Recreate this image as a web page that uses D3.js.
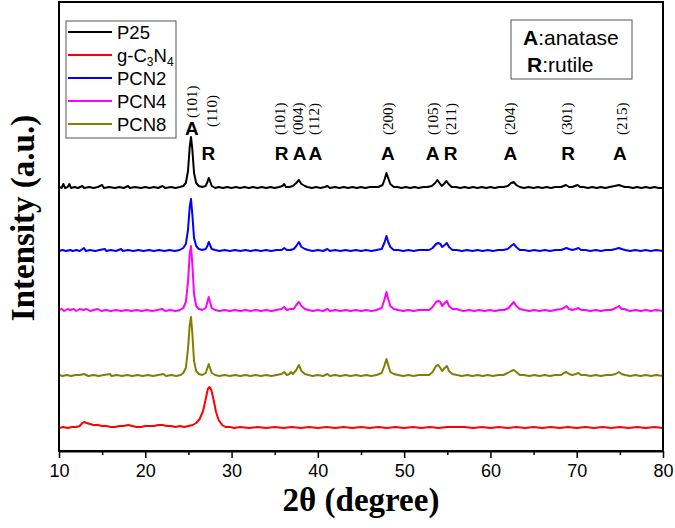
<!DOCTYPE html>
<html><head><meta charset="utf-8">
<script src="https://cdn.jsdelivr.net/npm/d3@7"></script>
<style>body{margin:0;background:#fff}</style>
</head><body><svg id="c" width="675" height="528"></svg>
<script>
const xTicks = [10,20,30,40,50,60,70,80];
const xMinorTicks = [15,25,35,45,55,65,75];
const seriesNames = ["P25","g-C3N4","PCN2","PCN4","PCN8"];
const seriesColors = ["#000000","#ff0000","#0000ff","#ff00ff","#808000"];
const seriesOffsets = [262,22,199,139,74];

const p25 = [[10,2],[10.3,1],[10.5,5],[10.7,1],[11,2],[11.2,5],[11.4,1],[11.8,2],[12.2,1],[12.7,3],[12.9,1],[13.5,2],[14,1],[14.5,2],[15,4],[15.2,1],[15.8,2],[16.5,1],[17,2],[17.5,1],[18,3],[18.2,1],[18.8,2],[19.5,1],[20,2],[20.5,1],[21,2],[21.5,1],[22,3],[22.3,1],[23,2],[23.5,1],[24,2],[24.4,3],[24.7,6],[24.95,18],[25.15,42],[25.3,52],[25.45,40],[25.65,16],[25.9,6],[26.2,3],[26.6,2],[27.0,3],[27.2,7],[27.35,11],[27.5,8],[27.7,3],[28.1,1],[28.5,2],[29,1],[29.5,2],[30,1],[30.5,2],[31,1],[31.5,2],[32,1],[32.5,2],[33,1],[33.5,2],[34,1],[34.5,2],[35,1],[35.5,2],[35.9,3],[36.1,5],[36.3,2],[36.7,2],[37.1,3],[37.5,6],[37.8,9],[38.1,5],[38.5,3],[38.8,2],[39.3,1],[39.8,2],[40.3,1],[40.8,2],[41.1,3],[41.4,1],[42,2],[42.5,1],[43,2],[43.5,1],[44,2],[44.5,1],[45,2],[45.5,1],[46,2],[46.5,2],[47,2],[47.5,4],[47.75,10],[47.95,16],[48.15,11],[48.4,5],[48.8,2],[49.2,2],[49.7,1],[50.2,2],[50.7,1],[51.2,2],[51.7,1],[52.2,2],[52.7,2],[53.2,3],[53.6,6],[53.85,9],[54.1,6],[54.35,3],[54.6,5],[54.9,8],[55.15,5],[55.5,2],[56,2],[56.5,1],[57,2],[57.5,1],[58,2],[58.5,1],[59,2],[59.5,1],[60,2],[60.5,1],[61,2],[61.5,2],[62,3],[62.4,6],[62.7,7],[63,4],[63.4,2],[63.9,1],[64.4,2],[65,1],[65.5,2],[66,1],[66.5,2],[67,1],[67.5,2],[68.2,2],[68.75,4],[69.1,2],[69.5,2],[69.8,3],[70.1,4],[70.4,2],[70.8,2],[71.3,1],[71.8,2],[72.3,1],[72.8,2],[73.3,1],[73.8,2],[74.4,3],[74.9,4],[75.2,3],[75.6,2],[76,2],[76.5,1],[77,2],[77.5,1],[78,2],[78.5,1],[79,2],[79.5,1],[80,1]];

const gC3N4 = [[10,1],[10.5,2],[11,1],[11.5,2],[12,2],[12.4,3],[12.7,6],[12.9,7],[13.2,6],[13.6,5],[14,4],[14.5,4],[15,3],[15.5,3],[16,2],[16.5,2],[17,3],[17.5,3],[18,4],[18.5,3],[19,2],[19.5,2],[20,3],[20.5,3],[21,3],[21.5,4],[22,4],[22.5,3],[23,3],[23.5,2],[24,3],[24.5,2],[25,3],[25.5,4],[25.9,6],[26.3,10],[26.7,18],[27.0,30],[27.25,40],[27.45,42],[27.65,39],[27.9,30],[28.2,17],[28.5,9],[28.9,4],[29.3,2],[29.8,2],[30.3,1],[31,2],[32,1],[33,2],[34,1],[35,2],[36,1],[37,2],[38,1],[39,2],[40,1],[41,2],[42,1],[43,2],[44,1],[45,2],[46,1],[47,2],[48,1],[49,2],[50,1],[51,2],[52,1],[53,2],[54,1],[55,2],[56,2],[57,2],[58,1],[59,2],[60,1],[61,2],[62,1],[63,2],[64,1],[65,2],[66,1],[67,2],[68,1],[69,2],[70,1],[71,2],[72,1],[73,2],[74,1],[75,2],[76,1],[77,2],[78,1],[79,2],[80,1]];

const pcn2 = [[10,1],[10.4,2],[10.8,1],[11.3,2],[11.6,1],[12,2],[12.4,1],[12.9,4],[13.1,1],[13.6,2],[14.2,1],[14.7,2],[15.3,3],[15.5,1],[16,2],[16.6,1],[17.2,3],[17.4,1],[18,2],[18.6,1],[19.2,2],[19.8,1],[20.4,2],[21,1],[21.6,2],[22.2,1],[22.8,2],[23.4,1],[24,2],[24.4,4],[24.7,8],[24.95,22],[25.15,45],[25.3,53],[25.45,38],[25.65,14],[25.9,6],[26.2,3],[26.6,2],[27.0,3],[27.2,6],[27.35,10],[27.5,7],[27.7,3],[28.1,2],[28.6,1],[29.2,2],[29.8,1],[30.4,2],[31,1],[31.6,2],[32.2,1],[32.8,2],[33.4,1],[34,2],[34.6,1],[35.2,2],[35.8,2],[36.1,4],[36.4,2],[36.8,2],[37.2,3],[37.5,6],[37.8,10],[38.1,5],[38.5,3],[38.9,2],[39.4,1],[40,2],[40.6,1],[41.1,3],[41.4,1],[42,2],[42.6,1],[43.2,2],[43.8,1],[44.4,2],[45,1],[45.6,2],[46.2,1],[46.8,2],[47.4,3],[47.7,9],[47.95,16],[48.15,10],[48.4,5],[48.8,2],[49.3,2],[49.9,1],[50.5,2],[51.1,1],[51.7,2],[52.3,2],[52.9,2],[53.3,4],[53.7,8],[53.95,9],[54.2,8],[54.4,5],[54.7,7],[54.95,9],[55.2,5],[55.6,2],[56.1,2],[56.7,1],[57.3,2],[57.9,1],[58.5,2],[59.1,1],[59.7,2],[60.3,1],[60.9,2],[61.5,2],[62,3],[62.4,6],[62.7,8],[63,5],[63.4,2],[63.9,2],[64.5,1],[65.1,2],[65.7,1],[66.3,2],[66.9,1],[67.5,2],[68.2,2],[68.5,3],[68.8,4],[69.1,3],[69.5,2],[69.9,3],[70.2,4],[70.5,2],[71,2],[71.6,1],[72.2,2],[72.8,1],[73.4,2],[74,2],[74.5,3],[74.9,4],[75.2,3],[75.6,2],[76.2,1],[76.8,2],[77.4,1],[78,2],[78.6,1],[79.2,2],[80,1]];

const pcn4 = [[10,2],[10.3,3],[10.6,1],[11,3],[11.3,2],[11.7,3],[12,1],[12.4,3],[12.8,2],[13.2,3],[13.6,1],[14,2],[14.5,3],[14.9,1],[15.4,2],[16,1],[16.6,2],[17.2,1],[17.8,2],[18.4,1],[19,2],[19.6,1],[20.2,2],[20.8,1],[21.4,2],[22,3],[22.3,1],[22.9,2],[23.5,1],[24,2],[24.4,4],[24.7,10],[24.95,30],[25.15,58],[25.3,66],[25.45,48],[25.65,18],[25.9,6],[26.2,3],[26.6,2],[27.0,4],[27.2,10],[27.35,15],[27.5,10],[27.7,4],[28.1,2],[28.6,1],[29.2,2],[29.8,1],[30.4,2],[31,1],[31.6,2],[32.2,1],[32.8,2],[33.4,1],[34,2],[34.6,1],[35.2,2],[35.8,3],[36.1,5],[36.4,2],[36.8,3],[37.2,3],[37.5,7],[37.8,10],[38.1,6],[38.5,3],[38.9,2],[39.4,1],[40,2],[40.6,1],[41.1,3],[41.4,1],[42,2],[42.6,1],[43.2,2],[43.8,1],[44.4,2],[45,1],[45.6,2],[46.2,1],[46.8,2],[47.4,4],[47.7,12],[47.95,20],[48.15,13],[48.4,6],[48.8,3],[49.3,2],[49.9,1],[50.5,2],[51.1,1],[51.7,2],[52.3,2],[52.9,2],[53.3,5],[53.7,10],[53.95,11],[54.2,10],[54.4,6],[54.7,9],[54.95,11],[55.2,6],[55.6,3],[56.1,3],[56.4,2],[56.9,1],[57.5,2],[58.1,1],[58.7,2],[59.3,1],[59.9,2],[60.5,1],[61.1,2],[61.6,2],[62.1,4],[62.4,7],[62.7,10],[63,6],[63.4,3],[63.9,2],[64.5,1],[65.1,2],[65.7,1],[66.3,2],[66.9,1],[67.5,2],[68.2,3],[68.5,4],[68.8,6],[69.1,3],[69.5,2],[69.9,3],[70.2,4],[70.5,2],[71,2],[71.6,1],[72.2,2],[72.8,1],[73.4,2],[74,2],[74.5,4],[74.9,6],[75.2,3],[75.5,3],[75.8,2],[76.2,1],[76.8,2],[77.4,1],[78,2],[78.6,1],[79.2,2],[80,1]];

const pcn8 = [[10,2],[10.4,1],[10.9,2],[11.4,1],[11.9,2],[12.4,2],[12.9,3],[13.4,1],[14,2],[14.6,1],[15.2,2],[15.9,3],[16.1,1],[16.7,2],[17.3,1],[17.9,2],[18.5,1],[19.1,2],[19.7,1],[20.3,2],[20.9,1],[21.5,2],[22.1,3],[22.4,1],[23,2],[23.6,1],[24.1,2],[24.4,4],[24.7,9],[24.95,28],[25.15,52],[25.3,60],[25.45,44],[25.65,16],[25.9,6],[26.2,3],[26.6,2],[27.0,4],[27.2,9],[27.35,13],[27.5,9],[27.7,4],[28.1,2],[28.6,1],[29.2,2],[29.8,1],[30.4,2],[31,1],[31.6,2],[32.2,1],[32.8,2],[33.4,1],[34,2],[34.6,1],[35.2,2],[35.8,3],[36.1,5],[36.4,2],[36.7,3],[36.9,5],[37.1,3],[37.5,7],[37.8,12],[38.1,6],[38.5,3],[38.9,2],[39.4,1],[40,2],[40.6,1],[41.1,3],[41.4,1],[42,2],[42.6,1],[43.2,2],[43.8,1],[44.4,2],[45,1],[45.6,2],[46.2,1],[46.8,2],[47.4,4],[47.7,11],[47.95,18],[48.15,12],[48.4,5],[48.8,3],[49.3,2],[49.9,1],[50.5,2],[51.1,1],[51.7,2],[52.3,2],[52.9,2],[53.3,5],[53.7,11],[53.95,12],[54.2,9],[54.4,6],[54.7,9],[54.95,11],[55.2,6],[55.6,3],[56.1,2],[56.7,1],[57.3,2],[57.9,1],[58.5,2],[59.1,1],[59.7,2],[60.3,1],[60.9,2],[61.5,2],[62,4],[62.4,6],[62.7,7],[63,5],[63.4,2],[63.9,2],[64.5,1],[65.1,2],[65.7,1],[66.3,2],[66.9,1],[67.5,2],[68.2,2],[68.5,4],[68.8,5],[69.1,3],[69.5,2],[69.9,3],[70.2,4],[70.5,2],[71,2],[71.6,1],[72.2,2],[72.8,1],[73.4,2],[74,2],[74.5,3],[74.9,5],[75.2,3],[75.6,2],[76.2,1],[76.8,2],[77.4,1],[78,2],[78.6,1],[79.2,2],[80,1]];

const seriesData = [p25, gC3N4, pcn2, pcn4, pcn8];

const phaseLabels = ["A","R","R","A","A","A","A","R","A","R","A"];
const phaseAngles = [25.4,27.3,35.8,37.9,39.7,48.1,53.3,55.4,62.3,69.0,75.0];
const hklLabels = ["(101)","(110)","(101)","(004)","(112)","(200)","(105)","(211)","(204)","(301)","(215)"];
const hklAngles = [25.4,27.7,35.6,37.7,39.5,48.1,53.3,55.4,62.3,68.9,75.2];

const svg = d3.select("#c");
const L = 59, R = 663, T = 2, B = 451;
const x = d3.scaleLinear().domain([10,80]).range([L,R]);
const y = d3.scaleLinear().domain([0,449]).range([B,T]);

svg.append("clipPath").attr("id","clip").append("rect")
  .attr("x",L).attr("y",T).attr("width",R-L).attr("height",B-T);

const line = d3.line().x(d=>x(d[0])).y(d=>y(d[1]));
const gLines = svg.append("g").attr("clip-path","url(#clip)");
seriesData.forEach((data,i)=>{
  const off = seriesOffsets[i];
  gLines.append("path")
    .datum(data.map(d=>[d[0], d[1]+off]))
    .attr("d", line)
    .attr("fill","none")
    .attr("stroke", seriesColors[i])
    .attr("stroke-width", 2)
    .attr("stroke-linejoin","round");
});

// frame
svg.append("rect").attr("x",L).attr("y",T).attr("width",R-L).attr("height",B-T)
  .attr("fill","none").attr("stroke","#000").attr("stroke-width",2);

// axes
const xAxis = svg.append("g").attr("transform",`translate(0,${B})`)
  .call(d3.axisBottom(x).tickValues(xTicks).tickSize(7).tickSizeOuter(0).tickPadding(6));
xAxis.select(".domain").attr("stroke-width",2);
xAxis.selectAll(".tick line").attr("stroke-width",1.5);
xAxis.selectAll(".tick text").attr("font-family","Liberation Sans, Arial, sans-serif").attr("font-size",18).attr("fill","#000");

const xMinor = svg.append("g").attr("transform",`translate(0,${B})`)
  .call(d3.axisBottom(x).tickValues(xMinorTicks).tickSize(4).tickFormat(""));
xMinor.select(".domain").remove();
xMinor.selectAll(".tick line").attr("stroke-width",1.5);

// axis titles
svg.append("text").attr("x",(L+R)/2).attr("y",511).attr("text-anchor","middle")
  .attr("font-family","Liberation Serif, Times New Roman, serif").attr("font-weight","bold")
  .attr("font-size",33).text("2θ (degree)");
svg.append("text").attr("transform",`translate(34,218) rotate(-90)`).attr("text-anchor","middle")
  .attr("font-family","Liberation Serif, Times New Roman, serif").attr("font-weight","bold")
  .attr("font-size",33).text("Intensity (a.u.)");

// phase letters
const gAnn = svg.append("g");
phaseLabels.forEach((lab,i)=>{
  gAnn.append("text").attr("x", x(phaseAngles[i])).attr("y", i===0 ? 135 : 160)
    .attr("text-anchor","middle").attr("font-family","Liberation Sans, Arial, sans-serif")
    .attr("font-weight","bold").attr("font-size",19).text(lab);
});
hklLabels.forEach((lab,i)=>{
  const bottom = i===0 ? 118 : (i===1 ? 127 : 135);
  gAnn.append("text").attr("transform",`translate(${x(hklAngles[i])},${bottom}) rotate(-90)`)
    .attr("text-anchor","start").attr("dominant-baseline","central")
    .attr("font-family","Liberation Serif, Times New Roman, serif")
    .attr("font-size",15).text(lab);
});

// legend
const lg = svg.append("g");
lg.append("rect").attr("x",66).attr("y",21).attr("width",110).attr("height",117)
  .attr("fill","#fff").attr("stroke","#555").attr("stroke-width",1);
const legendY = [32,55,78,101,124];
seriesNames.forEach((nm,i)=>{
  lg.append("line").attr("x1",68).attr("x2",112).attr("y1",legendY[i]).attr("y2",legendY[i])
    .attr("stroke",seriesColors[i]).attr("stroke-width",2);
  const t = lg.append("text").attr("x",117).attr("y",legendY[i]+6.5)
    .attr("font-family","Liberation Sans, Arial, sans-serif").attr("font-size",18.5);
  if (nm === "g-C3N4") {
    t.append("tspan").text("g-C");
    t.append("tspan").attr("font-size",12).attr("dy",4).text("3");
    t.append("tspan").attr("dy",-4).text("N");
    t.append("tspan").attr("font-size",12).attr("dy",4).text("4");
  } else t.text(nm);
});

// phase key box
const kb = svg.append("g");
kb.append("rect").attr("x",511).attr("y",20).attr("width",121).attr("height",59)
  .attr("fill","#fff").attr("stroke","#555").attr("stroke-width",1);
const k1 = kb.append("text").attr("x",523).attr("y",45).attr("font-family","Liberation Sans, Arial, sans-serif").attr("font-size",21);
k1.append("tspan").attr("font-weight","bold").text("A");
k1.append("tspan").text(":anatase");
const k2 = kb.append("text").attr("x",527).attr("y",72).attr("font-family","Liberation Sans, Arial, sans-serif").attr("font-size",21);
k2.append("tspan").attr("font-weight","bold").text("R");
k2.append("tspan").text(":rutile");
</script>
</body></html>
